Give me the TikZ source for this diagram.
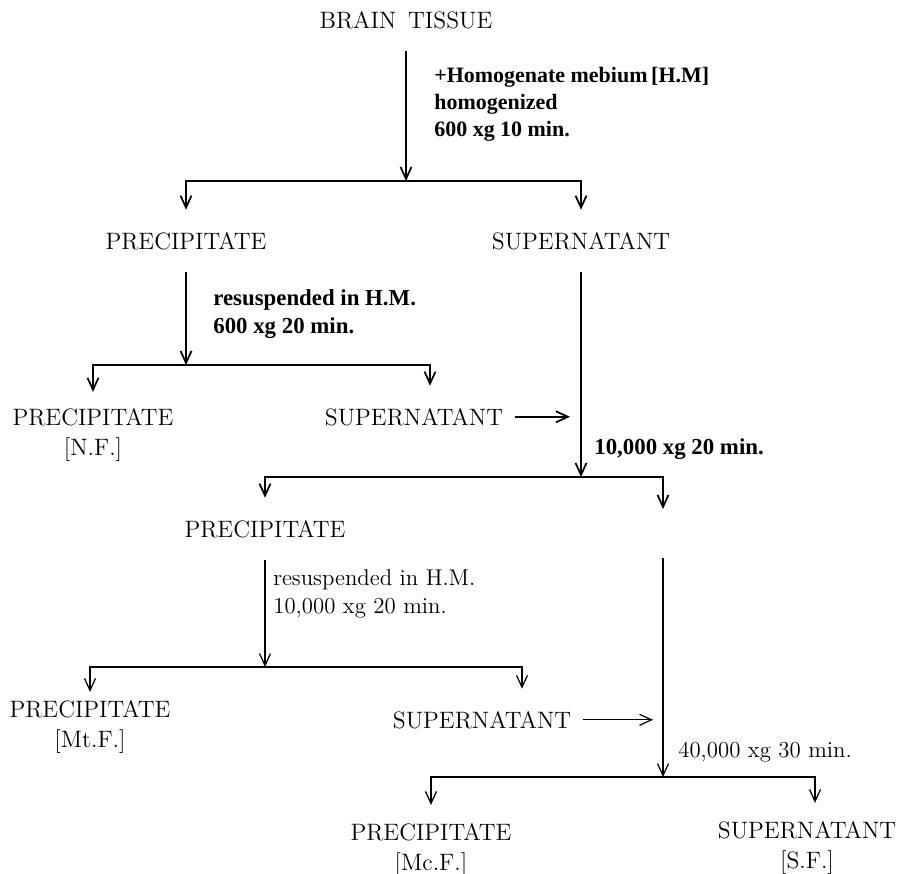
\documentclass[tikz,border=0pt]{standalone}
\usepackage{fontspec}
\newfontfamily\condfont{Liberation Serif}
\usetikzlibrary{arrows.meta,positioning}

\begin{document}
\begin{tikzpicture}[x=0.02cm,y=-0.02cm,
  stage/.style={font=\fontsize{13.5}{17}\selectfont,align=center,
    inner xsep=2.2mm,inner ysep=4.4mm,anchor=base},
  cond/.style={font=\condfont\bfseries\fontsize{13}{15.9}\selectfont,
    align=left,anchor=base west,inner sep=0pt},
  condlight/.style={font=\fontsize{13}{15.9}\selectfont,
    align=left,anchor=base west,inner sep=0pt},
  arr/.style={-{Straight Barb[length=2.4mm,width=2.2mm]},line width=1pt},
  thinarr/.style={arr,line width=0.7pt}
]
  \useasboundingbox (0,0) rectangle (898,873);

  % Tissue and first spin
  \node[stage] (brain) at (406,28) {BRAIN\hspace{0.5em}TISSUE};
  \node[cond,font=\condfont\bfseries\fontsize{12.5}{15.3}\selectfont] (homog) at (434,136)
    {+Homogenate mebium\,[H.M]\\homogenized\\600 xg 10 min.};
  \coordinate (s1) at (406,181);

  % First fractions
  \node[stage] (p1) at (186,249) {PRECIPITATE};
  \node[stage] (sup1) at (581,249) {SUPERNATANT};
  \node[cond] (resus1) at (213,333) {resuspended in H.M.\\600 xg 20 min.};
  \coordinate (s2) at (186,365);

  % Nuclear fraction
  \node[stage,inner ysep=3.2mm] (p2) at (93,455) {PRECIPITATE\\{[N.F.]}};
  \node[stage] (sup2) at (414,425) {SUPERNATANT};
  \node[cond] (spin2) at (594,454) {10,000 xg 20 min.};
  \coordinate (s3) at (581,477);

  % Crude mitochondria
  \node[stage] (p3) at (265,537) {PRECIPITATE};
  \coordinate (sup3) at (663,509);
  \coordinate (sup3b) at (663,558);
  \node[condlight] (resus2) at (273,613) {resuspended in H.M.\\10,000 xg 20 min.};
  \coordinate (s4) at (265,667);

  % Mitochondrial fraction
  \node[stage,inner ysep=1.6mm] (p4) at (90,747) {PRECIPITATE\\{[Mt.F.]}};
  \node[stage] (sup4) at (482,728) {SUPERNATANT};
  \node[condlight] (spin3) at (678,757) {40,000 xg 30 min.};
  \coordinate (s5) at (663,777);

  % Microsomes and soluble
  \node[stage,inner ysep=3.6mm] (p5) at (431,870) {PRECIPITATE\\{[Mc.F.]}};
  \node[stage,inner ysep=3.6mm] (sup5) at (807,868) {SUPERNATANT\\{[S.F.]}};

  % Arrows
  \draw[arr] (brain) -- (s1);
  \draw[arr] (s1) -| (p1);
  \draw[arr] (s1) -| (sup1);
  \draw[arr] (p1) -- (s2);
  \draw[arr] (s2) -| (p2);
  \draw[arr] (s2) -| ([xshift=3.2mm]sup2.north);
  \draw[arr,shorten >=2.2mm] (sup2) -- (sup2 -| sup1);
  \draw[arr] (sup1) -- (s3);
  \draw[arr] (s3) -| (p3);
  \draw[arr] (s3) -| (sup3);
  \draw[thinarr] (p3) -- (s4);
  \draw[thinarr] (s4) -| (p4);
  \draw[thinarr] (s4) -| ([xshift=8mm]sup4.north);
  \draw[thinarr] (sup3b) -- (s5);
  \draw[thinarr,shorten >=2mm] (sup4) -- (sup4 -| s5);
  \draw[thinarr] (s5) -| (p5);
  \draw[thinarr] (s5) -| ([xshift=1.6mm]sup5.north);
\end{tikzpicture}
\end{document}
